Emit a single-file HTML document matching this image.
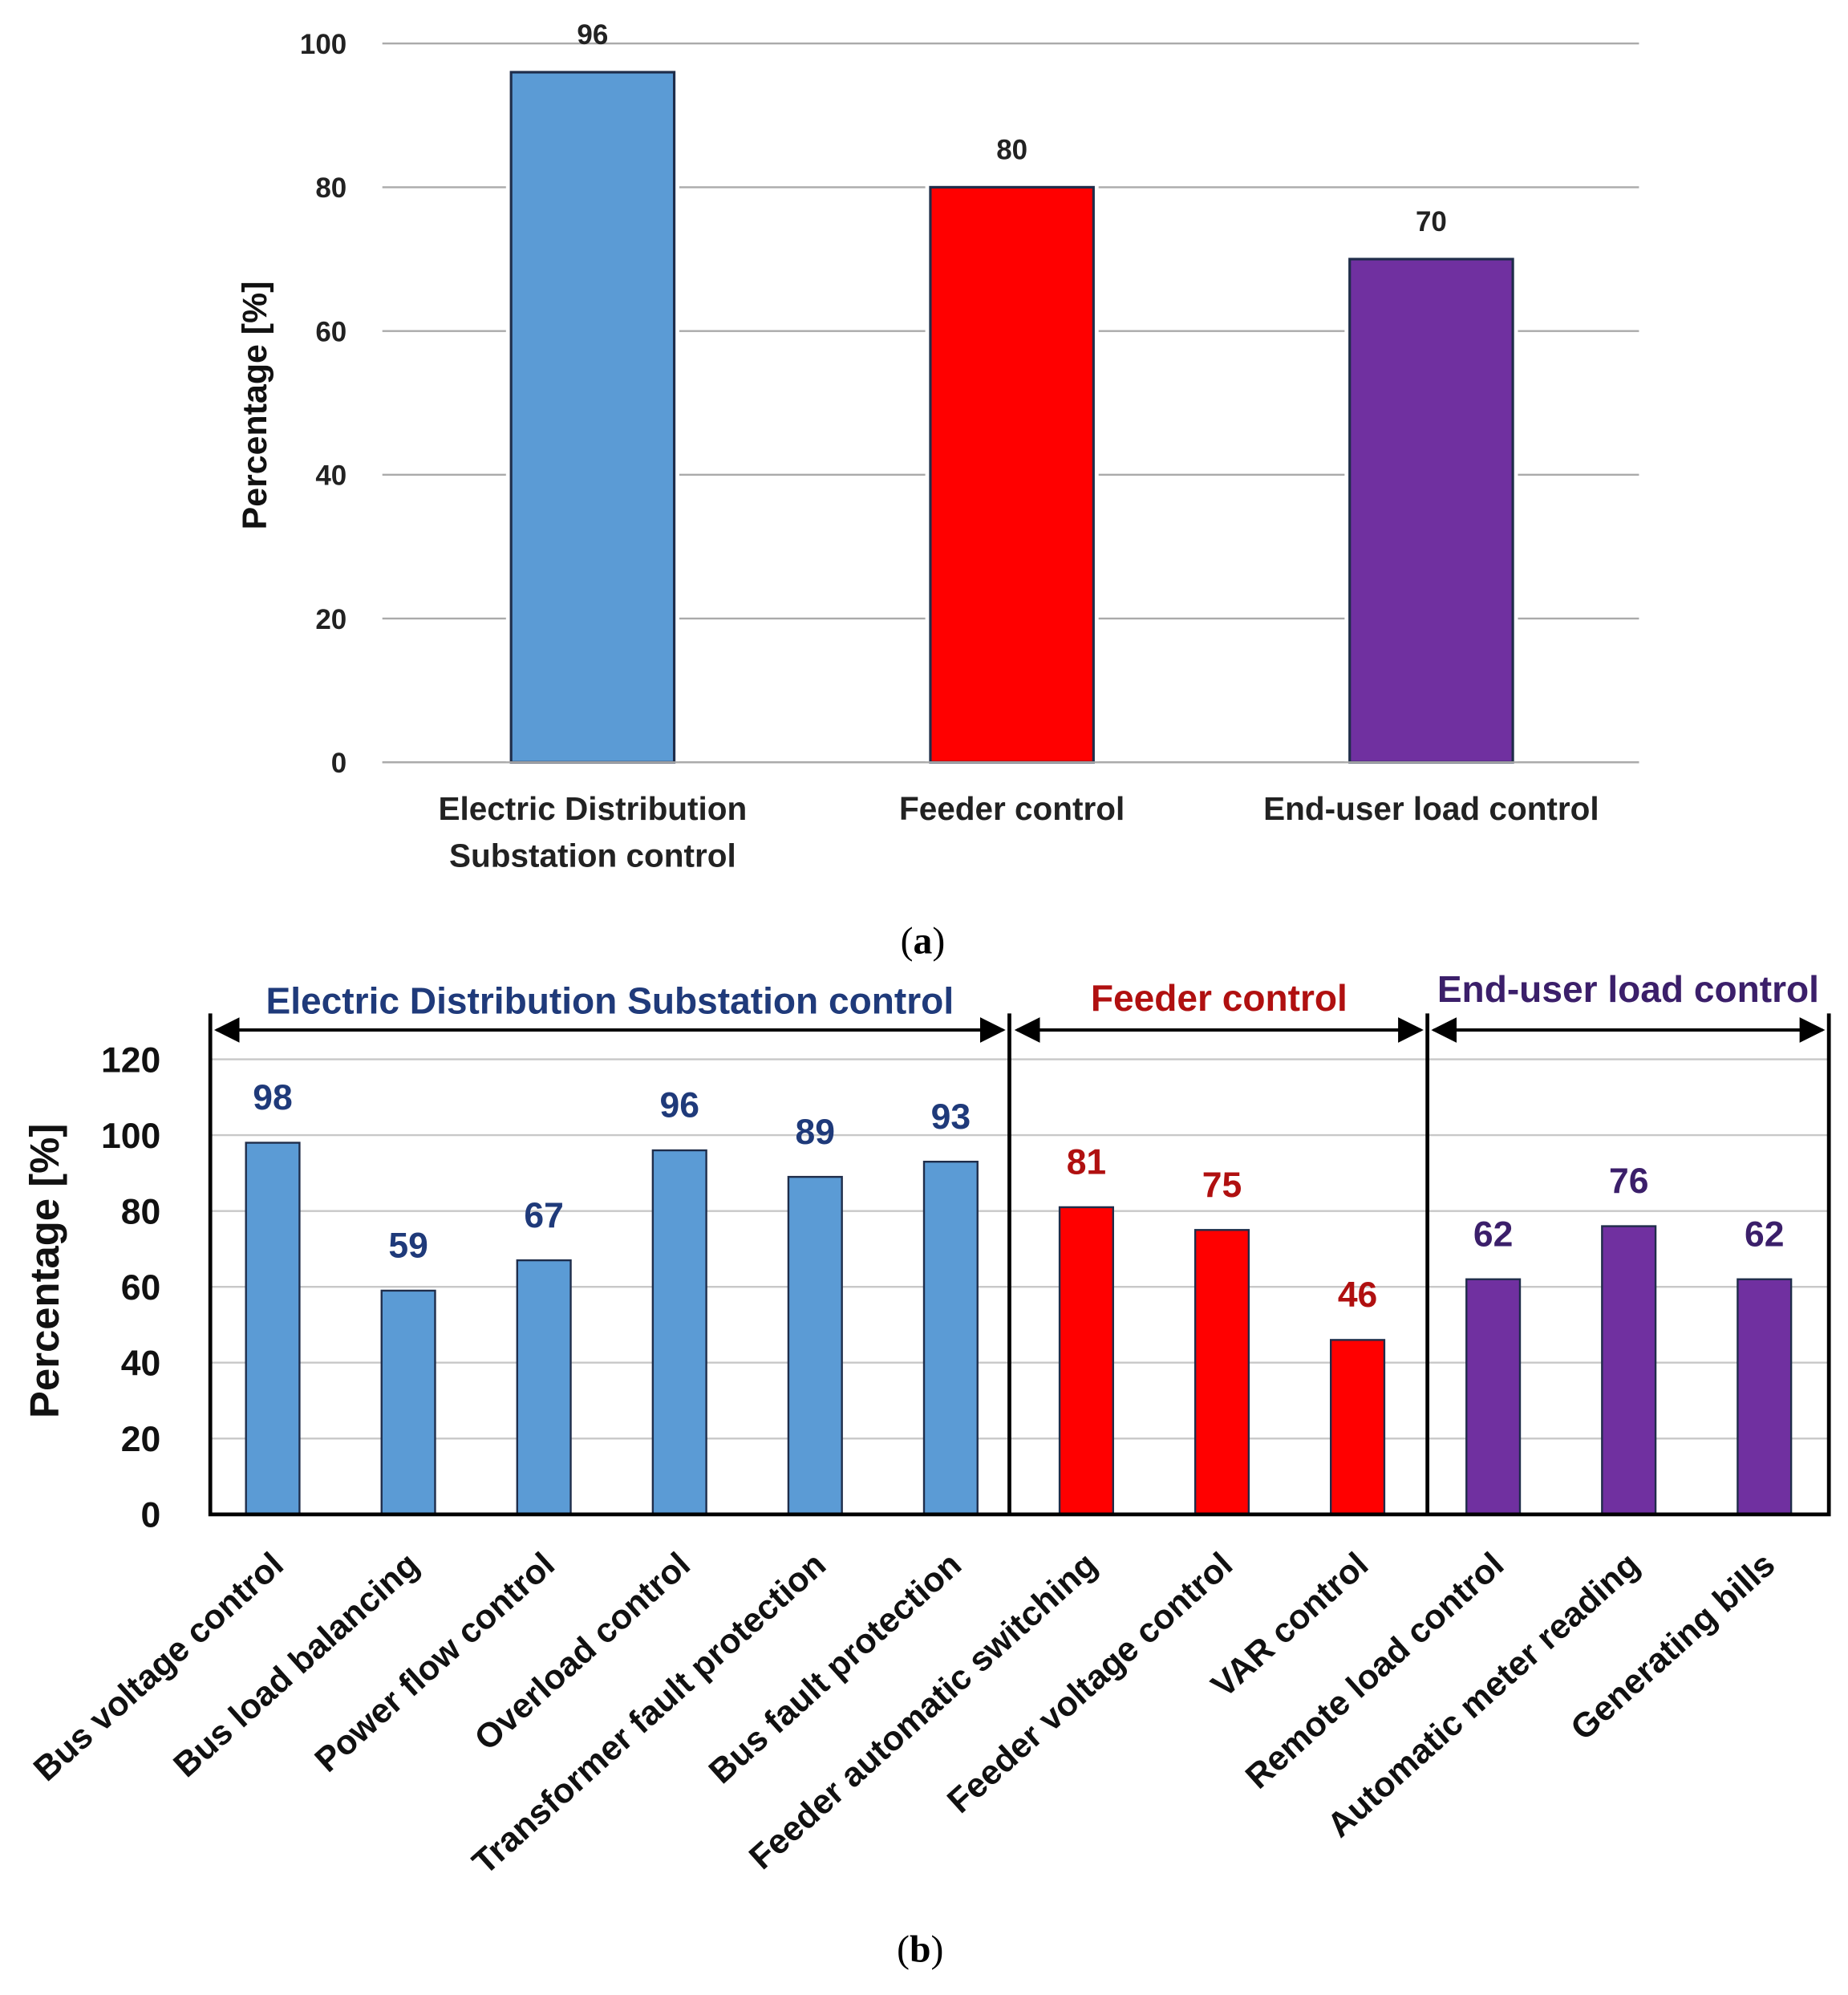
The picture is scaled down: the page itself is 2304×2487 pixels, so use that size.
<!DOCTYPE html>
<html><head><meta charset="utf-8"><style>
html,body{margin:0;padding:0;background:#fff}
svg{display:block}
text{font-family:"Liberation Sans",sans-serif;font-weight:bold}
</style></head><body>
<svg id="chart" width="2304" height="2487" viewBox="0 0 1450 1565" xmlns="http://www.w3.org/2000/svg">
<defs>
<marker id="arr" viewBox="0 0 10 10" refX="9" refY="5" markerWidth="8" markerHeight="8" orient="auto-start-reverse"><path d="M0,0L10,5L0,10z" fill="#000"/></marker>
</defs>
<g id="ga"></g>
<text x="724" y="748" text-anchor="middle" style="font-family:'Liberation Serif',serif;font-size:30px;font-weight:normal">(<tspan font-weight="bold">a</tspan>)</text>
<g id="gb"></g>
<text x="722" y="1539" text-anchor="middle" style="font-family:'Liberation Serif',serif;font-size:30px;font-weight:normal">(<tspan font-weight="bold">b</tspan>)</text>
</svg>
<script>
const NS="http://www.w3.org/2000/svg";
// Chart A data
const aCats=[["Electric Distribution","Substation control"],["Feeder control"],["End-user load control"]];
const aVals=[96,80,70];
const aColors=["#5b9bd5","#ff0000","#7030a0"];
const aTicks=[0,20,40,60,80,100];
// Chart B data
const bCats=["Bus voltage control","Bus load balancing","Power flow control","Overload control","Transformer fault protection","Bus fault protection","Feeder automatic switching","Feeder voltage control","VAR control","Remote load control","Automatic meter reading","Generating bills"];
const bVals=[98,59,67,96,89,93,81,75,46,62,76,62];
const bGroup=[0,0,0,0,0,0,1,1,1,2,2,2];
const bTicks=[0,20,40,60,80,100,120];
const groupNames=["Electric Distribution Substation control","Feeder control","End-user load control"];

function el(p,tag,attrs,txt){const e=document.createElementNS(NS,tag);for(const k in attrs)e.setAttribute(k,attrs[k]);if(txt!==undefined)e.textContent=txt;p.appendChild(e);return e;}

// ---- Chart A
const ga=document.getElementById('ga');
const ay=v=>598-v*5.64;
const ax=i=>465+i*329;
aTicks.forEach(t=>{
  const l=el(ga,'line',{x1:300,x2:1286,y1:ay(t),y2:ay(t),stroke:'#aaa','stroke-width':1.5});
  
  
  const tx=el(ga,'text',{x:272,y:ay(t)+8,'text-anchor':'end','font-size':22,fill:'#222'},t);
  
  
});
aVals.forEach((v,i)=>{
  el(ga,'rect',{x:ax(i)-68,y:ay(v)-4,width:136,height:ay(0)-ay(v)+4,fill:'#fff'});
  const r=el(ga,'rect',{x:ax(i)-64,y:ay(v),width:128,height:ay(0)-ay(v),fill:aColors[i],stroke:'#1f2d4a','stroke-width':2});
  
  
  const vt=el(ga,'text',{x:ax(i),y:ay(v)-22,'text-anchor':'middle','font-size':22,fill:'#222'},v);
  
  
  aCats[i].forEach((s,j)=>{
    const c=el(ga,'text',{x:ax(i),y:643+j*37,'text-anchor':'middle','font-size':25.5,fill:'#222'},s);
    
    
  });
});
el(ga,'line',{x1:300,x2:1286,y1:598,y2:598,stroke:'#aaa','stroke-width':1.5});
const yta=el(ga,'text',{x:0,y:0,transform:'translate(209,318) rotate(-90)','text-anchor':'middle','font-size':27,fill:'#111'},'Percentage [%]');



// ---- Chart B
const gb=document.getElementById('gb');
const by=v=>1188-v*2.975;
const bx=i=>214+i*106.4;
const gCol=["#1f3a7a","#b01010","#3b1f6a"];
const barCol=["#5b9bd5","#ff0000","#7030a0"];
bTicks.forEach(t=>{
  if(t>0){const l=el(gb,'line',{x1:165,x2:1435,y1:by(t),y2:by(t),stroke:'#c8c8c8','stroke-width':1.5});
  
  }
  const tx=el(gb,'text',{x:126,y:by(t)+10,'text-anchor':'end','font-size':28,fill:'#111'},t);
  
  
});
bVals.forEach((v,i)=>{
  const g=bGroup[i];
  const r=el(gb,'rect',{x:bx(i)-21,y:by(v),width:42,height:by(0)-by(v),fill:barCol[g],stroke:'#1f2d4a','stroke-width':1.5});
  
  
  const vt=el(gb,'text',{x:bx(i),y:by(v)-26,'text-anchor':'middle','font-size':28,fill:gCol[g]},v);
  
  
  const c=el(gb,'text',{x:0,y:0,transform:`translate(${bx(i)+10},1230) rotate(-42)`,'text-anchor':'end','font-size':27,fill:'#111'},bCats[i]);
  
  
});
const frame=el(gb,'path',{d:'M165,795 V1188 H1435 V795',fill:'none',stroke:'#000','stroke-width':3});


[792,1120].forEach((x,k)=>{
  const d=el(gb,'line',{x1:x,x2:x,y1:795,y2:1188,stroke:'#000','stroke-width':3});
  
  
});
const spans=[[168,789],[796,1117],[1123,1432]];
const ly=[795,793,786];
spans.forEach((s,k)=>{
  const a=el(gb,'line',{x1:s[0]+2,x2:s[1]-2,y1:808,y2:808,stroke:'#000','stroke-width':2.5,'marker-start':'url(#arr)','marker-end':'url(#arr)'});
  
  
  const t=el(gb,'text',{x:(s[0]+s[1])/2,y:ly[k],'text-anchor':'middle','font-size':29,fill:gCol[k]},groupNames[k]);
  
  
});
const ytb=el(gb,'text',{x:0,y:0,transform:'translate(46,997) rotate(-90)','text-anchor':'middle','font-size':32,fill:'#111'},'Percentage [%]');


</script>
</body></html>
